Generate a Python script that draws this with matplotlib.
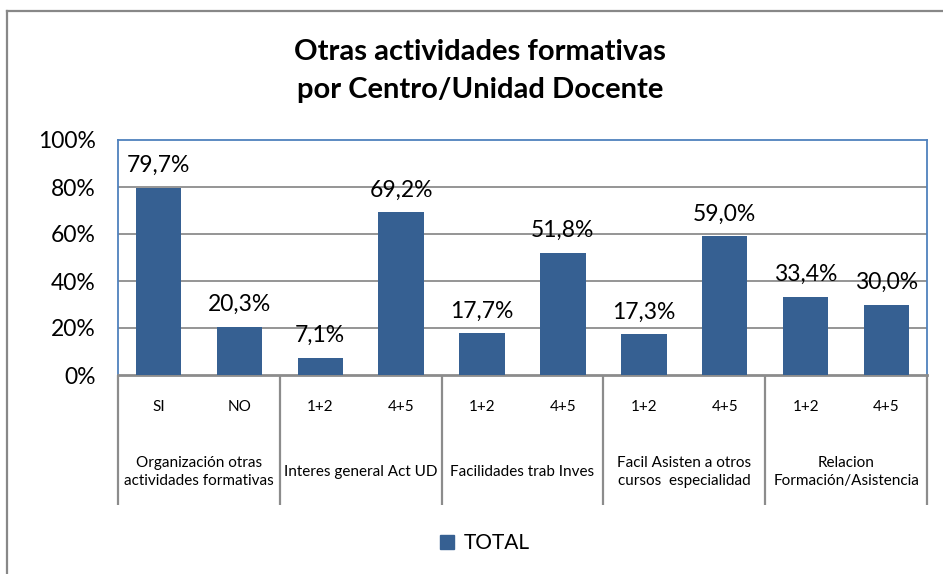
import matplotlib
matplotlib.use("Agg")
import matplotlib.pyplot as plt
from matplotlib.lines import Line2D
import numpy as np

plt.rcParams['font.family'] = ['Lato', 'DejaVu Sans']

title = "Otras actividades formativas\npor Centro/Unidad Docente"
sub_labels = ["SI", "NO", "1+2", "4+5", "1+2", "4+5", "1+2", "4+5", "1+2", "4+5"]
group_labels = ["Organización otras\nactividades formativas", "Interes general Act UD",
                "Facilidades trab Inves", "Facil Asisten a otros\ncursos  especialidad",
                "Relacion\nFormación/Asistencia"]
values = [79.7, 20.3, 7.1, 69.2, 17.7, 51.8, 17.3, 59.0, 33.4, 30.0]
series_name = "TOTAL"
yticks = [0, 20, 40, 60, 80, 100]

W, H = 943, 574
fig = plt.figure(figsize=(W / 100, H / 100), dpi=100)
L, R, T, B = 118, 927, 140, 375
ax = fig.add_axes([L / W, 1 - B / H, (R - L) / W, (B - T) / H])

bar_color = "#366092"
x = np.arange(len(values))
ax.bar(x, values, width=0.56, color=bar_color, zorder=3)
ax.set_xlim(-0.5, len(values) - 0.5)
ax.set_ylim(0, 100)
ax.set_yticks(yticks)
ax.set_yticklabels([f"{v}%" for v in yticks], fontsize=16.5)
ax.tick_params(axis='y', length=0, pad=16)
ax.set_xticks([])
for y in yticks[1:-1]:
    ax.axhline(y, color="#8c8c8c", lw=1.3, zorder=1)

for s in ['left', 'top', 'right']:
    ax.spines[s].set_color("#4f81bd")
    ax.spines[s].set_linewidth(1.3)
ax.spines['bottom'].set_color("#8c8c8c")
ax.spines['bottom'].set_linewidth(2)

for xi, v in zip(x, values):
    ax.annotate(f"{v:.1f}%".replace(".", ","), (xi, v), xytext=(0, 11.5),
                textcoords="offset points", ha="center", va="baseline", fontsize=16.5)

tr = ax.get_xaxis_transform()
for xi, lab in zip(x, sub_labels):
    ax.text(xi, -0.136, lab, transform=tr, ha="center", va="center", fontsize=11)
for g, lab in enumerate(group_labels):
    ax.text(2 * g + 0.5, -0.413, lab, transform=tr, ha="center", va="center",
            fontsize=11, linespacing=1.3)
for b in np.arange(-0.5, len(values), 2):
    ax.plot([b, b], [0, -0.553], transform=tr, color="#8c8c8c", lw=1.6,
            clip_on=False, solid_capstyle="butt")

fig.text(480 / W, 1 - 71 / H, title, ha="center", va="center", fontsize=21,
         fontweight="bold", linespacing=1.55)

handle = plt.Rectangle((0, 0), 1, 1, color=bar_color)
fig.legend([handle], [series_name], loc="center", bbox_to_anchor=(485 / W, 1 - 543 / H),
           frameon=False, fontsize=15, handlelength=0.65, handleheight=0.65,
           handletextpad=0.5)

fig.add_artist(Line2D([7 / W, 1], [1 - 11 / H, 1 - 11 / H], color="#888888", lw=1.6))
fig.add_artist(Line2D([7 / W, 7 / W], [0, 1 - 11 / H], color="#888888", lw=1.6))

fig.savefig("out.png", dpi=100, facecolor="white")
